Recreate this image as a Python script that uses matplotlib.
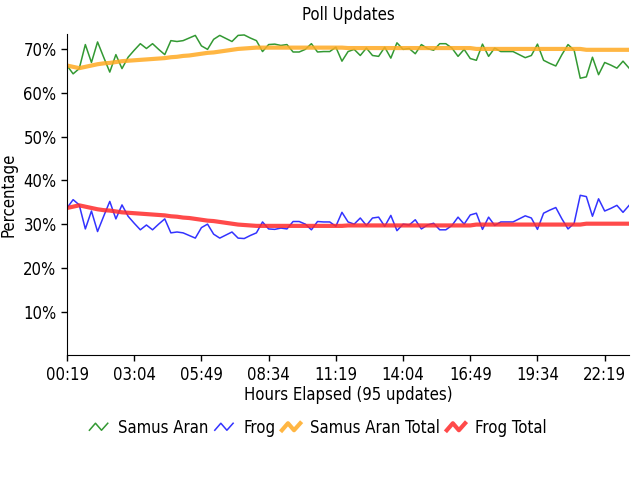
import matplotlib
matplotlib.use('Agg')
import matplotlib.pyplot as plt
from matplotlib.legend_handler import HandlerLine2D
from matplotlib.lines import Line2D
import numpy as np

plt.rcParams['font.family'] = ['DejaVu Sans']
plt.rcParams['font.stretch'] = 'condensed'

# update interval 15 min, first update at 00:19
interval = 15
tick_labels = ['00:19', '03:04', '05:49', '08:34', '11:19', '14:04', '16:49', '19:34', '22:19']

samus = [66.3, 64.4, 65.6, 71.1, 67.0, 71.7, 68.2, 64.8, 68.8, 65.6,
         68.2, 69.8, 71.3, 70.2, 71.3, 70.0, 68.8, 72.0, 71.8, 72.0,
         72.6, 73.2, 70.8, 70.0, 72.3, 73.2, 72.5, 71.8, 73.2, 73.3,
         72.6, 72.0, 69.5, 71.1, 71.2, 70.9, 71.1, 69.4, 69.4, 70.0,
         71.3, 69.4, 69.5, 69.5, 70.5, 67.3, 69.5, 70.0, 68.6, 70.3,
         68.6, 68.4, 70.5, 68.0, 71.5, 70.0, 70.2, 69.0, 71.1, 70.2,
         69.8, 71.3, 71.3, 70.3, 68.4, 70.0, 67.9, 67.5, 71.2, 68.4,
         70.3, 69.5, 69.5, 69.5, 68.8, 68.1, 68.6, 71.2, 67.5, 66.8,
         66.2, 68.8, 71.1, 69.8, 63.4, 63.7, 68.2, 64.2, 67.0, 66.4,
         65.7, 67.3, 65.7]

frog = [33.7, 35.6, 34.4, 28.9, 33.0, 28.3, 31.8, 35.2, 31.2, 34.4,
        31.8, 30.2, 28.7, 29.8, 28.7, 30.0, 31.2, 28.0, 28.2, 28.0,
        27.4, 26.8, 29.2, 30.0, 27.7, 26.8, 27.5, 28.2, 26.8, 26.7,
        27.4, 28.0, 30.5, 28.9, 28.8, 29.1, 28.9, 30.6, 30.6, 30.0,
        28.7, 30.6, 30.5, 30.5, 29.5, 32.7, 30.5, 30.0, 31.4, 29.7,
        31.4, 31.6, 29.5, 32.0, 28.5, 30.0, 29.8, 31.0, 28.9, 29.8,
        30.2, 28.7, 28.7, 29.7, 31.6, 30.0, 32.1, 32.5, 28.8, 31.6,
        29.7, 30.5, 30.5, 30.5, 31.2, 31.9, 31.4, 28.8, 32.5, 33.2,
        33.8, 31.2, 28.9, 30.2, 36.6, 36.3, 31.8, 35.8, 33.0, 33.6,
        34.3, 32.7, 34.3]

samus_total = [66.3, 66.0, 65.7, 66.0, 66.3, 66.6, 66.8, 66.9, 67.1, 67.3,
               67.4, 67.5, 67.6, 67.7, 67.8, 67.9, 68.0, 68.2, 68.3, 68.5,
               68.6, 68.8, 69.0, 69.2, 69.3, 69.5, 69.7, 69.9, 70.1, 70.2,
               70.3, 70.4, 70.4, 70.4, 70.4, 70.4, 70.4, 70.4, 70.4, 70.4,
               70.4, 70.4, 70.4, 70.4, 70.4, 70.4, 70.3, 70.3, 70.3, 70.3,
               70.3, 70.3, 70.3, 70.3, 70.3, 70.3, 70.3, 70.3, 70.3, 70.3,
               70.3, 70.3, 70.3, 70.3, 70.3, 70.3, 70.3, 70.1, 70.1, 70.1,
               70.1, 70.1, 70.1, 70.1, 70.1, 70.1, 70.1, 70.1, 70.1, 70.1,
               70.1, 70.1, 70.1, 70.1, 70.1, 69.9, 69.9, 69.9, 69.9, 69.9,
               69.9, 69.9, 69.9]

frog_total = [33.7, 34.0, 34.3, 34.0, 33.7, 33.4, 33.2, 33.1, 32.9, 32.7,
              32.6, 32.5, 32.4, 32.3, 32.2, 32.1, 32.0, 31.8, 31.7, 31.5,
              31.4, 31.2, 31.0, 30.8, 30.7, 30.5, 30.3, 30.1, 29.9, 29.8,
              29.7, 29.6, 29.6, 29.6, 29.6, 29.6, 29.6, 29.6, 29.6, 29.6,
              29.6, 29.6, 29.6, 29.6, 29.6, 29.6, 29.7, 29.7, 29.7, 29.7,
              29.7, 29.7, 29.7, 29.7, 29.7, 29.7, 29.7, 29.7, 29.7, 29.7,
              29.7, 29.7, 29.7, 29.7, 29.7, 29.7, 29.7, 29.9, 29.9, 29.9,
              29.9, 29.9, 29.9, 29.9, 29.9, 29.9, 29.9, 29.9, 29.9, 29.9,
              29.9, 29.9, 29.9, 29.9, 29.9, 30.1, 30.1, 30.1, 30.1, 30.1,
              30.1, 30.1, 30.1]


class ZigZag(HandlerLine2D):
    # little zigzag icon like the original legend
    def create_artists(self, legend, orig, xd, yd, width, height, fontsize, trans):
        xs = [0, width * 0.33, width * 0.66, width]
        ys = [height * 0.25, height * 0.85, height * 0.25, height * 0.85]
        ln = Line2D(np.array(xs) - xd, np.array(ys) - yd)
        self.update_prop(ln, orig, legend)
        ln.set_transform(trans)
        return [ln]


minutes = np.arange(len(samus)) * interval

fig = plt.figure(figsize=(6.4, 4.8), dpi=100)
ax = fig.add_axes([0.1047, 0.26, 0.8783, 0.669])

ax.plot(minutes, samus, color='#339933', lw=1.1, label='Samus Aran')
ax.plot(minutes, frog, color='#3333ff', lw=1.1, label='Frog')
ax.plot(minutes, samus_total, color='#ffaa22', lw=3, alpha=0.85, label='Samus Aran Total')
ax.plot(minutes, frog_total, color='#ff2a2a', lw=3, alpha=0.85, label='Frog Total')

ax.set_xlim(0, minutes[-1])
ax.set_ylim(0, 73.5)
ax.set_xticks(np.arange(len(tick_labels)) * 165)
ax.set_xticklabels(tick_labels)
ax.set_yticks(range(10, 80, 10))
ax.set_yticklabels([f'{v}%' for v in range(10, 80, 10)])
ax.tick_params(labelsize=12, length=4, width=1, direction='out', colors='black')
for s in ['top', 'right']:
    ax.spines[s].set_visible(False)

ax.set_title('Poll Updates', fontsize=12, pad=10)
ax.set_ylabel('Percentage', fontsize=12, labelpad=4)
ax.set_xlabel('Hours Elapsed (95 updates)', fontsize=12, labelpad=2)

fig.legend(loc='center', bbox_to_anchor=(0.497, 0.108), ncol=4, frameon=False,
           fontsize=12, handlelength=1.1, handletextpad=0.6, columnspacing=0.4,
           handler_map={Line2D: ZigZag()})

fig.savefig('out.png', dpi=100)
